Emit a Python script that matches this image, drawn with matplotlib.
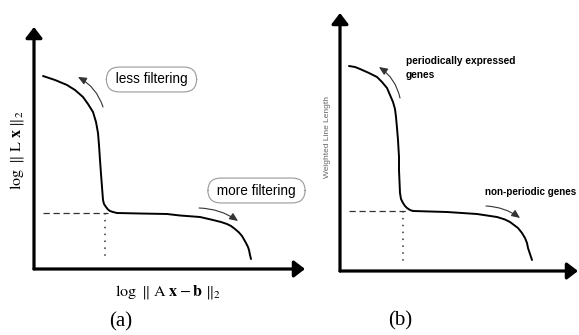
import matplotlib

matplotlib.use("Agg")
import matplotlib.pyplot as plt
from matplotlib import font_manager

# L-curve (a): log||Ax-b|| vs log||Lx|| (arbitrary units)
lcurve_resid = [9, 21, 33, 41, 49, 54, 59, 62, 64, 65, 66, 67, 68, 69, 70,
                72, 74, 76, 79, 83, 106, 133, 146, 166, 179, 187, 193, 197,
                201, 205, 208, 210, 212, 214, 215, 216, 217]
lcurve_norm = [193, 189, 184, 179, 172, 165, 157, 147, 136, 124, 109, 95,
               82, 69, 65, 62, 59.5, 58, 57, 56, 55.5, 55, 53.5, 52, 49, 47,
               45, 43, 40, 36.5, 33, 29.5, 26, 22, 19, 14, 10]
corner_a = (71, 56)

# weighted line length curve (b)
wll_x = [9, 15, 20, 29, 37, 42, 47, 50, 53, 55, 56, 57, 58, 59, 59, 60, 61,
         63, 65, 67, 70, 73, 107, 137, 157, 165, 170, 174, 178, 182, 185,
         187, 188, 190, 192]
wll_y = [205, 204, 202, 198, 194, 189, 183, 176, 169, 162, 154, 143, 131,
         114, 101, 78, 72, 68, 65, 63, 61, 60, 59, 57, 54, 51.5, 49, 46, 43,
         38, 33, 28, 23, 17, 11]
corner_b = (63, 60)

names = {f.name for f in font_manager.fontManager.ttflist}
if "Liberation Sans Narrow" in names:
    NARROW, NARROW_SIZE = "Liberation Sans Narrow", 8.6
else:
    NARROW, NARROW_SIZE = "Liberation Sans", 7.1

plt.rcParams["mathtext.fontset"] = "stix"

W, H = 579, 335
fig = plt.figure(figsize=(W / 100, H / 100), dpi=100)


def px_axes(left, bottom, right, top):
    # axes placed by pixel corners (y from top of image)
    return fig.add_axes([left / W, 1 - bottom / H, (right - left) / W,
                         (bottom - top) / H])


def draw_frame(ax):
    ax.set_axis_off()
    head = "-|>,head_length=0.65,head_width=0.5"
    for end in [(1, 0), (0, 1)]:
        ax.annotate("", xy=end, xytext=(0, 0), xycoords="axes fraction",
                    textcoords="axes fraction",
                    arrowprops=dict(arrowstyle=head, lw=2.3, color="black",
                                    shrinkA=0, shrinkB=0),
                    annotation_clip=False)


def curved_arrow(ax, tail, head, rad):
    ax.annotate("", xy=head, xytext=tail,
                arrowprops=dict(arrowstyle="-|>,head_length=0.5,head_width=0.22",
                                lw=0.8, color="#333333", shrinkA=0, shrinkB=0,
                                connectionstyle=f"arc3,rad={rad}"),
                annotation_clip=False)


def guides(ax, corner, x0):
    cx, cy = corner
    ax.plot([x0, cx + 3], [cy, cy], color="#333333", lw=0.9,
            linestyle=(0, (5, 3)))
    ax.plot([cx, cx], [cy, 9], color="#333333", lw=1.1,
            linestyle=(0, (1, 3.5)))


# ---- panel (a)
ax_a = px_axes(34, 269, 305, 27)
ax_a.set_xlim(0, 271)
ax_a.set_ylim(0, 242)
draw_frame(ax_a)
guides(ax_a, corner_a, 9)
ax_a.plot(lcurve_resid, lcurve_norm, color="black", lw=1.4,
          solid_joinstyle="round", solid_capstyle="round")

box = dict(boxstyle="round,pad=0.4,rounding_size=0.95", fc="white",
           ec="#999999", lw=0.8)
ax_a.text(117.5, 189.5, " less filtering ", ha="center", va="center",
          family="Liberation Sans", fontsize=9.8, bbox=box, clip_on=False)
ax_a.text(222.5, 78.5, " more filtering ", ha="center", va="center",
          family="Liberation Sans", fontsize=9.8, bbox=box, clip_on=False)
curved_arrow(ax_a, (69, 162), (44, 192), 0.2)
curved_arrow(ax_a, (165, 61), (204, 48), -0.15)

ax_a.text(-17, 119, r"$\log\ \Vert\ \mathrm{L}\ \mathbf{x}\ \Vert_2$",
          rotation=90, ha="center", va="center", fontsize=11.5, clip_on=False)
ax_a.text(134, -23, r"$\log\ \Vert\ \mathrm{A}\ \mathbf{x} - \mathbf{b}\ \Vert_2$",
          ha="center", va="center", fontsize=11.5, clip_on=False)
ax_a.text(87, -53, "(a)", ha="center", va="center", family="Liberation Serif",
          fontsize=15, clip_on=False)

# ---- panel (b)
ax_b = px_axes(340, 271, 578, 13)
ax_b.set_xlim(0, 238)
ax_b.set_ylim(0, 258)
draw_frame(ax_b)
guides(ax_b, corner_b, 9)
ax_b.plot(wll_x, wll_y, color="black", lw=1.4, solid_joinstyle="round",
          solid_capstyle="round")

ax_b.text(66, 215, "periodically expressed\ngenes", ha="left", va="top",
          family=NARROW, fontweight="bold", fontsize=NARROW_SIZE + 0.2,
          linespacing=1.45, clip_on=False)
ax_b.text(145, 79, "non-periodic genes", ha="left", va="center",
          family=NARROW, fontweight="bold", fontsize=NARROW_SIZE, clip_on=False)
curved_arrow(ax_b, (60, 173), (39, 204), 0.2)
curved_arrow(ax_b, (146, 65), (180, 53), -0.15)

ax_b.text(-13, 134, "Weighted Line Length", rotation=90, ha="center",
          va="center", family="Liberation Sans", fontsize=6, color="#666666",
          clip_on=False)
ax_b.text(60, -50, "(b)", ha="center", va="center", family="Liberation Serif",
          fontsize=15, clip_on=False)

fig.savefig("out.png", dpi=100)
